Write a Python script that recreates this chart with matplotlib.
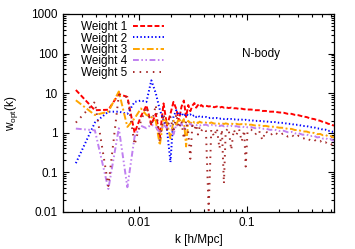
# w_opt(k) for the five weightings, N-body case

import numpy as np
import matplotlib.pyplot as plt

plt.rcParams['font.family'] = ['Liberation Sans', 'DejaVu Sans']
plt.rcParams['mathtext.fontset'] = 'custom'
plt.rcParams['mathtext.rm'] = 'Liberation Sans'

# k bins [h/Mpc]
k = [0.00262, 0.00393, 0.00524, 0.00655, 0.00786, 0.00917, 0.0105, 0.0118, 0.0131, 0.0144,
     0.0157, 0.0170, 0.0183, 0.0197, 0.0210, 0.0223, 0.0236, 0.0249, 0.0262, 0.0275,
     0.0288, 0.0301, 0.0314, 0.0328, 0.0341, 0.0354, 0.0367, 0.0380, 0.0393,
     0.042, 0.0445, 0.047, 0.050, 0.053, 0.056, 0.059, 0.0616, 0.064, 0.068,
     0.072, 0.076, 0.080, 0.085, 0.090, 0.095, 0.098, 0.102, 0.11, 0.12,
     0.13, 0.14, 0.15, 0.165, 0.18, 0.20, 0.22, 0.24, 0.26, 0.28,
     0.30, 0.33, 0.36, 0.39, 0.42, 0.45, 0.48, 0.51, 0.54, 0.57,
     0.60, 0.63, 0.655]

w1 = [12.0, 3.7, 3.8, 9.5, 8.0, 1.0, 2.6, 4.9, 1.6, 3.0,
      0.8, 5.5, 1.5, 3.0, 6.0, 4.0, 2.0, 4.5, 6.5, 2.5,
      5.0, 3.5, 4.8, 5.6, 4.3, 5.0, 4.5, 5.0, 4.6,
      4.8, 4.6, 4.7, 4.4, 4.6, 4.3, 4.5, 4.3, 4.4, 4.2,
      4.3, 4.15, 4.15, 4.0, 4.05, 3.9, 3.95, 3.85, 3.85, 3.7,
      3.7, 3.55, 3.55, 3.4, 3.4, 3.25, 3.2, 3.0, 3.0, 2.82,
      2.78, 2.58, 2.48, 2.28, 2.22, 2.08, 2.0, 1.86, 1.8, 1.68,
      1.64, 1.54, 1.52]

w2 = [0.17, 1.8, 3.4, 3.4, 3.0, 6.0, 6.5, 6.0, 21.0, 10.0,
      3.8, 2.0, 1.2, 0.18, 2.5, 3.7, 2.8, 3.2, 2.6, 3.0,
      2.7, 2.9, 2.6, 2.8, 2.5, 2.7, 2.5, 2.6, 2.5,
      2.5, 2.35, 2.4, 2.3, 2.35, 2.25, 2.3, 2.22, 2.28, 2.18,
      2.22, 2.15, 2.2, 2.12, 2.14, 2.08, 2.12, 2.05, 2.07, 1.98,
      2.0, 1.93, 1.94, 1.86, 1.87, 1.78, 1.77, 1.68, 1.67, 1.58,
      1.59, 1.48, 1.47, 1.38, 1.37, 1.28, 1.27, 1.19, 1.19, 1.11,
      1.12, 1.05, 1.05]

w3 = [6.6, 2.8, 3.4, 11.0, 1.4, 2.3, 4.1, 2.8, 2.5, 2.0,
      0.48, 2.3, 1.8, 0.72, 2.0, 1.6, 2.3, 1.8, 2.2, 0.45,
      2.0, 1.7, 2.0, 1.8, 1.9, 1.75, 1.9, 1.8, 1.85,
      1.8, 1.7, 1.82, 1.7, 1.75, 1.68, 1.74, 1.66, 1.72, 1.65,
      1.7, 1.64, 1.68, 1.62, 1.65, 1.6, 1.64, 1.57, 1.6, 1.52,
      1.54, 1.47, 1.49, 1.41, 1.42, 1.34, 1.33, 1.25, 1.25, 1.17,
      1.17, 1.08, 1.07, 0.99, 0.99, 0.92, 0.93, 0.86, 0.87, 0.81,
      0.82, 0.77, 0.78]

w4 = [1.27, 1.15, 0.038, 1.3, 0.042, 0.8, 1.5, 1.3, 1.6, 1.4,
      1.0, 1.6, 1.3, 1.5, 0.9, 1.6, 1.4, 1.7, 1.3, 1.6,
      1.5, 1.7, 1.5, 1.6, 1.55, 1.6, 1.5, 1.6, 1.55,
      1.6, 1.5, 1.58, 1.48, 1.55, 1.47, 1.53, 1.45, 1.51, 1.44,
      1.49, 1.42, 1.47, 1.4, 1.45, 1.38, 1.43, 1.37, 1.39, 1.3,
      1.33, 1.25, 1.27, 1.18, 1.2, 1.11, 1.12, 1.03, 1.05, 0.96,
      0.98, 0.89, 0.9, 0.82, 0.84, 0.76, 0.78, 0.71, 0.73, 0.67,
      0.69, 0.63, 0.65]

w5 = [1.8, 6.0, 0.045, 9.0, 8.0, 0.5, 2.0, 4.5, 1.5, 5.0,
      0.58, 3.0, 1.2, 2.5, 1.0, 3.0, 1.3, 2.0, 0.7, 2.0,
      1.0, 0.22, 1.5, 1.2, 1.6, 0.9, 1.4, 1.1, 1.3,
      1.1, 0.011, 1.2, 0.8, 1.3, 0.4, 1.2, 0.052, 1.1, 1.3,
      0.37, 1.2, 0.85, 1.25, 0.6, 1.15, 0.14, 1.1, 1.2, 0.9,
      1.15, 0.65, 1.1, 0.85, 1.05, 0.85, 0.98, 0.8, 0.9, 0.75,
      0.84, 0.7, 0.76, 0.63, 0.68, 0.58, 0.62, 0.53, 0.57, 0.5,
      0.53, 0.47, 0.5]

labels = ['Weight 1', 'Weight 2', 'Weight 3', 'Weight 4', 'Weight 5']
colors = ['#ff0000', '#0000ff', '#ffa500', '#c080f0', '#a52a2a']
dashes = [(2.5, 1.2), (0.7, 1.2), (3.5, 1.3, 1.0, 1.3), (3.0, 1.3, 0.8, 1.3, 0.8, 1.3), (0.8, 2.6)]

fig = plt.figure(figsize=(3.55, 2.49), dpi=100)
ax = fig.add_axes([0.178, 0.149, 0.764, 0.795])

for w, lab, c, d in zip([w1, w2, w3, w4, w5], labels, colors, dashes):
    ax.plot(k, w, color=c, lw=1.4, dashes=d, label=lab)

ax.set_xscale('log')
ax.set_yscale('log')
ax.set_xlim(0.002, 0.65)
ax.set_ylim(0.01, 1000)
ax.set_xticks([0.01, 0.1])
ax.set_xticklabels(['0.01', '0.1'])
ax.set_yticks([0.01, 0.1, 1, 10, 100, 1000])
ax.set_yticklabels(['0.01', '0.1', '1', '10', '100', '1000'])
ax.tick_params(which='both', direction='in', top=True, right=True, labelsize=8.5, width=0.8)
ax.tick_params(which='major', length=4.5, pad=4)
ax.tick_params(which='minor', length=2.5)
for s in ax.spines.values():
    s.set_linewidth(0.9)

ax.set_xlabel('k [h/Mpc]', fontsize=8.5, labelpad=3)
ax.set_ylabel(r'w$_{\rm opt}$(k)', fontsize=8.5, labelpad=8)
ax.text(0.73, 0.80, 'N-body', transform=ax.transAxes, fontsize=8.5, ha='center', va='center')

ax.legend(loc='upper left', bbox_to_anchor=(0.035, 1.005), frameon=False, markerfirst=False,
          fontsize=8.5, handlelength=2.6, handletextpad=0.5, labelspacing=-0.05, borderpad=0.2)

plt.savefig('out.png', dpi=100)
